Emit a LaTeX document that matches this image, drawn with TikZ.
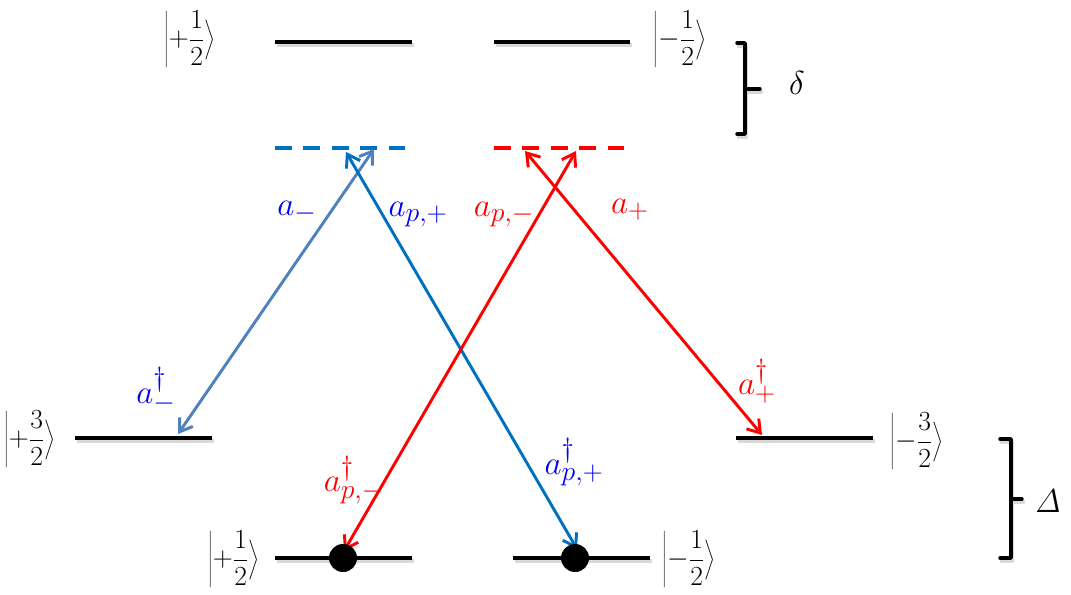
\documentclass[tikz,border=0pt]{standalone}
\usetikzlibrary{arrows.meta}
\definecolor{steel}{RGB}{79,129,189}
\definecolor{dblue}{RGB}{0,112,192}
\definecolor{lblue}{RGB}{0,0,255}
\definecolor{lred}{RGB}{255,0,0}
\newcommand{\myketc}[2]{$\displaystyle\left|#1{#2\over 2}\vphantom{\rule[-15pt]{0pt}{33pt}}\right\rangle$}
\begin{document}
\begin{tikzpicture}[x=0.75pt,y=-0.75pt,
  level/.style={line width=3pt, black},
  shadowline/.style={line width=3pt, black!25, opacity=0.6},
  dashlevel/.style={line width=3pt, dash pattern=on 12.75pt off 8.6pt},
  trans/.style={line width=2.2pt, {Straight Barb[length=9pt,width=12pt,line width=2.2pt]}-{Straight Barb[length=9pt,width=12pt,line width=2.2pt]}},
  ket/.style={font=\fontsize{21}{25}\selectfont, inner sep=0pt},
  lab/.style={font=\fontsize{28}{32}\selectfont, inner sep=0pt},
  bracepath/.style={line width=2.6pt, line cap=round, line join=round},
  dot/.style={circle, fill=black, minimum size=21pt, inner sep=0pt}
]
\useasboundingbox (0,0) rectangle (1071,595);

% level coordinates
\coordinate (tlA) at (275,42);  \coordinate (tlB) at (412,42);
\coordinate (trA) at (494,42);  \coordinate (trB) at (630,42);
\coordinate (dlA) at (275,148); \coordinate (dlB) at (405,148);
\coordinate (drA) at (494,148); \coordinate (drB) at (624,148);
\coordinate (mlA) at (75,438);  \coordinate (mlB) at (212,438);
\coordinate (mrA) at (736,438); \coordinate (mrB) at (873,438);
\coordinate (blA) at (275,558); \coordinate (blB) at (412,558);
\coordinate (brA) at (513,558); \coordinate (brB) at (650,558);

% shadows
\foreach \a/\b in {tlA/tlB,trA/trB,mlA/mlB,mrA/mrB,blA/blB,brA/brB}{
  \draw[shadowline] ([shift={(1.5,3)}]\a) -- ([shift={(1.5,3)}]\b);
}

% levels
\draw[level] (tlA) -- (tlB);
\draw[level] (trA) -- (trB);
\draw[level] (mlA) -- (mlB);
\draw[level] (mrA) -- (mrB);
\draw[level] (blA) -- (blB);
\draw[level] (brA) -- (brB);
\draw[dashlevel, dblue] (dlA) -- (dlB);
\draw[dashlevel, lred] (drA) -- (drB);

% transition endpoints
\coordinate (amT) at (374,149);  \coordinate (amB) at (178,434);
\coordinate (apT) at (346,152);  \coordinate (apB) at (577,549);
\coordinate (bmT) at (576,151);  \coordinate (bmB) at (344,551);
\coordinate (bpT) at (525,151);  \coordinate (bpB) at (762,435);

\draw[trans, steel] (amT) -- (amB);
\draw[trans, dblue] (apT) -- (apB);
\draw[trans, lred] (bmT) -- (bmB);
\draw[trans, lred] (bpT) -- (bpB);

% dots
\node[dot] (d1) at (343,558) {};
\node[dot] (d2) at (575,558) {};

% kets
\node[ket] (k1) at (190,39) {\myketc{+}{1}};
\node[ket] (k2) at (680,39) {\myketc{-}{1}};
\node[ket] (k3) at (30,439) {\myketc{+}{3}};
\node[ket] (k4) at (917,441) {\myketc{-}{3}};
\node[ket] (k5) at (234,559) {\myketc{+}{1}};
\node[ket] (k6) at (689,559) {\myketc{-}{1}};

% labels
\node[lab, text=lblue] (l1) at (297,212) {$a_{-}$};
\node[lab, text=lblue] (l2) at (418,215) {$a_{p,+}$};
\node[lab, text=lred] (l3) at (504,215) {$a_{p,-}$};
\node[lab, text=lred] (l4) at (630,210) {$a_{+}$};
\node[lab, text=lblue] (l5) at (156,390) {$a_{-}^{\dagger}$};
\node[lab, text=lred] (l6) at (757,381) {$a_{+}^{\dagger}$};
\node[lab, text=lred] (l7) at (354,480) {$a_{p,-}^{\dagger}$};
\node[lab, text=lblue] (l8) at (574,462) {$a_{p,+}^{\dagger}$};

% braces
\draw[bracepath, black!25, opacity=0.6, shift={(1.5,3)}] (737,43) -- (745,43) -- (745,89) -- (760,89) (745,89) -- (745,134) -- (737,134);
\draw[bracepath] (737,43) -- (745,43) -- (745,89) -- (760,89) (745,89) -- (745,134) -- (737,134);
\node[lab] (delta) at (797,83) {$\delta$};

\draw[bracepath, black!25, opacity=0.6, shift={(1.5,3)}] (1000,439) -- (1011,439) -- (1011,499) -- (1022,499) (1011,499) -- (1011,558) -- (1000,558);
\draw[bracepath] (1000,439) -- (1011,439) -- (1011,499) -- (1022,499) (1011,499) -- (1011,558) -- (1000,558);
\node[lab] (Delta) at (1048,501) {$\mathit{\Delta}$};
\end{tikzpicture}
\end{document}
